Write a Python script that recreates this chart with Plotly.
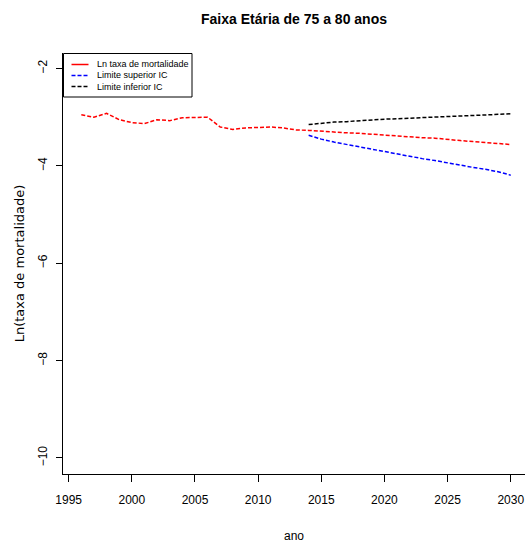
import plotly.graph_objects as go

# Observed log mortality rate, ages 75-80
anos_obs = [1996, 1997, 1998, 1999, 2000, 2001, 2002, 2003, 2004, 2005,
            2006, 2007, 2008, 2009, 2010, 2011, 2012, 2013, 2014]
ln_taxa_obs = [-2.95, -3.00, -2.92, -3.05, -3.11, -3.13, -3.05, -3.07, -3.01, -3.01,
               -3.00, -3.20, -3.25, -3.22, -3.21, -3.20, -3.22, -3.26, -3.27]

# Projection with confidence bounds
anos_prev = [2014, 2015, 2016, 2017, 2018, 2019, 2020, 2021, 2022,
             2023, 2024, 2025, 2026, 2027, 2028, 2029, 2030]
ln_taxa_prev = [-3.27, -3.29, -3.31, -3.32, -3.33, -3.35, -3.37, -3.38, -3.40,
                -3.42, -3.43, -3.46, -3.48, -3.50, -3.52, -3.54, -3.56]
lim_superior = [-3.37, -3.45, -3.51, -3.56, -3.61, -3.66, -3.71, -3.76, -3.80,
                -3.85, -3.89, -3.94, -3.98, -4.03, -4.07, -4.12, -4.19]
lim_inferior = [-3.15, -3.12, -3.10, -3.09, -3.07, -3.05, -3.04, -3.03, -3.02,
                -3.00, -2.99, -2.98, -2.97, -2.96, -2.95, -2.94, -2.93]

x_ticks = [1995, 2000, 2005, 2010, 2015, 2020, 2025, 2030]
y_ticks = [-10, -8, -6, -4, -2]

legend_labels = ["Ln taxa de mortalidade", "Limite superior IC", "Limite inferior IC"]
legend_colors = ["#ff0000", "#0000ff", "#000000"]
legend_dashes = ["solid", "4px,2px", "4px,2px"]

FONT = "Liberation Sans, Arial, sans-serif"
DASH = "4px,2px"

# figure geometry (pixels)
FIG_W, FIG_H = 525, 543
M_L, M_R, M_T, M_B = 63, 0, 53, 69
PLOT_W = FIG_W - M_L - M_R
PLOT_H = FIG_H - M_T - M_B


def px_x(x):
    return (x - M_L) / PLOT_W


def px_y(y):
    return 1 - (y - M_T) / PLOT_H


fig = go.Figure()

anos_red = anos_obs + anos_prev[1:]
ln_red = ln_taxa_obs + ln_taxa_prev[1:]

fig.add_trace(go.Scatter(x=anos_red, y=ln_red, mode="lines",
                         line=dict(color=legend_colors[0], width=1.5, dash=DASH),
                         name=legend_labels[0]))
fig.add_trace(go.Scatter(x=anos_prev, y=lim_superior, mode="lines",
                         line=dict(color=legend_colors[1], width=1.5, dash=DASH),
                         name=legend_labels[1]))
fig.add_trace(go.Scatter(x=anos_prev, y=lim_inferior, mode="lines",
                         line=dict(color=legend_colors[2], width=1.5, dash=DASH),
                         name=legend_labels[2]))

# boxed legend in the top-left corner
shapes = [dict(type="rect", xref="paper", yref="paper",
               x0=px_x(63.5), x1=px_x(192), y0=px_y(97), y1=px_y(53.5),
               line=dict(color="black", width=1), fillcolor="white")]
annotations = []
row_y = [64.5, 75.5, 86.5]
for lab, col, dsh, ry in zip(legend_labels, legend_colors, legend_dashes, row_y):
    shapes.append(dict(type="line", xref="paper", yref="paper",
                       x0=px_x(71.5), x1=px_x(88.5), y0=px_y(ry), y1=px_y(ry),
                       line=dict(color=col, width=1.5, dash=dsh)))
    annotations.append(dict(text=lab, xref="paper", yref="paper",
                            x=px_x(95), y=px_y(ry), xanchor="left", yanchor="middle",
                            showarrow=False, font=dict(family=FONT, size=9, color="black")))

fig.update_layout(
    width=FIG_W, height=FIG_H,
    margin=dict(l=M_L, r=M_R, t=M_T, b=M_B),
    paper_bgcolor="white", plot_bgcolor="white",
    showlegend=False,
    shapes=shapes,
    annotations=annotations,
    title=dict(text="<b>Faixa Etária de 75 a 80 anos</b>",
               font=dict(family=FONT, size=14, color="black"),
               x=0.5, xref="paper", xanchor="center",
               y=1 - 19 / FIG_H, yref="container", yanchor="middle"),
    xaxis=dict(range=[1994.55, 2031.13], tickvals=x_ticks,
               showgrid=False, zeroline=False,
               showline=True, linecolor="black", linewidth=1,
               ticks="outside", ticklen=7, tickcolor="black", tickwidth=1,
               ticklabelstandoff=8, ticklabeloverflow="allow",
               tickfont=dict(family=FONT, size=12, color="black"),
               title=dict(text="ano", standoff=27,
                          font=dict(family=FONT, size=12, color="black"))),
    yaxis=dict(range=[-10.33, -1.68], tickvals=y_ticks,
               showgrid=False, zeroline=False,
               showline=True, linecolor="black", linewidth=1,
               ticks="outside", ticklen=6, tickcolor="black", tickwidth=1,
               tickangle=-90, ticklabelstandoff=4,
               tickfont=dict(family=FONT, size=12, color="black"),
               title=dict(text="Ln(taxa de mortalidade)", standoff=8,
                          font=dict(family="DejaVu Sans", size=13, color="black"))),
)

fig.write_html("out.html")
